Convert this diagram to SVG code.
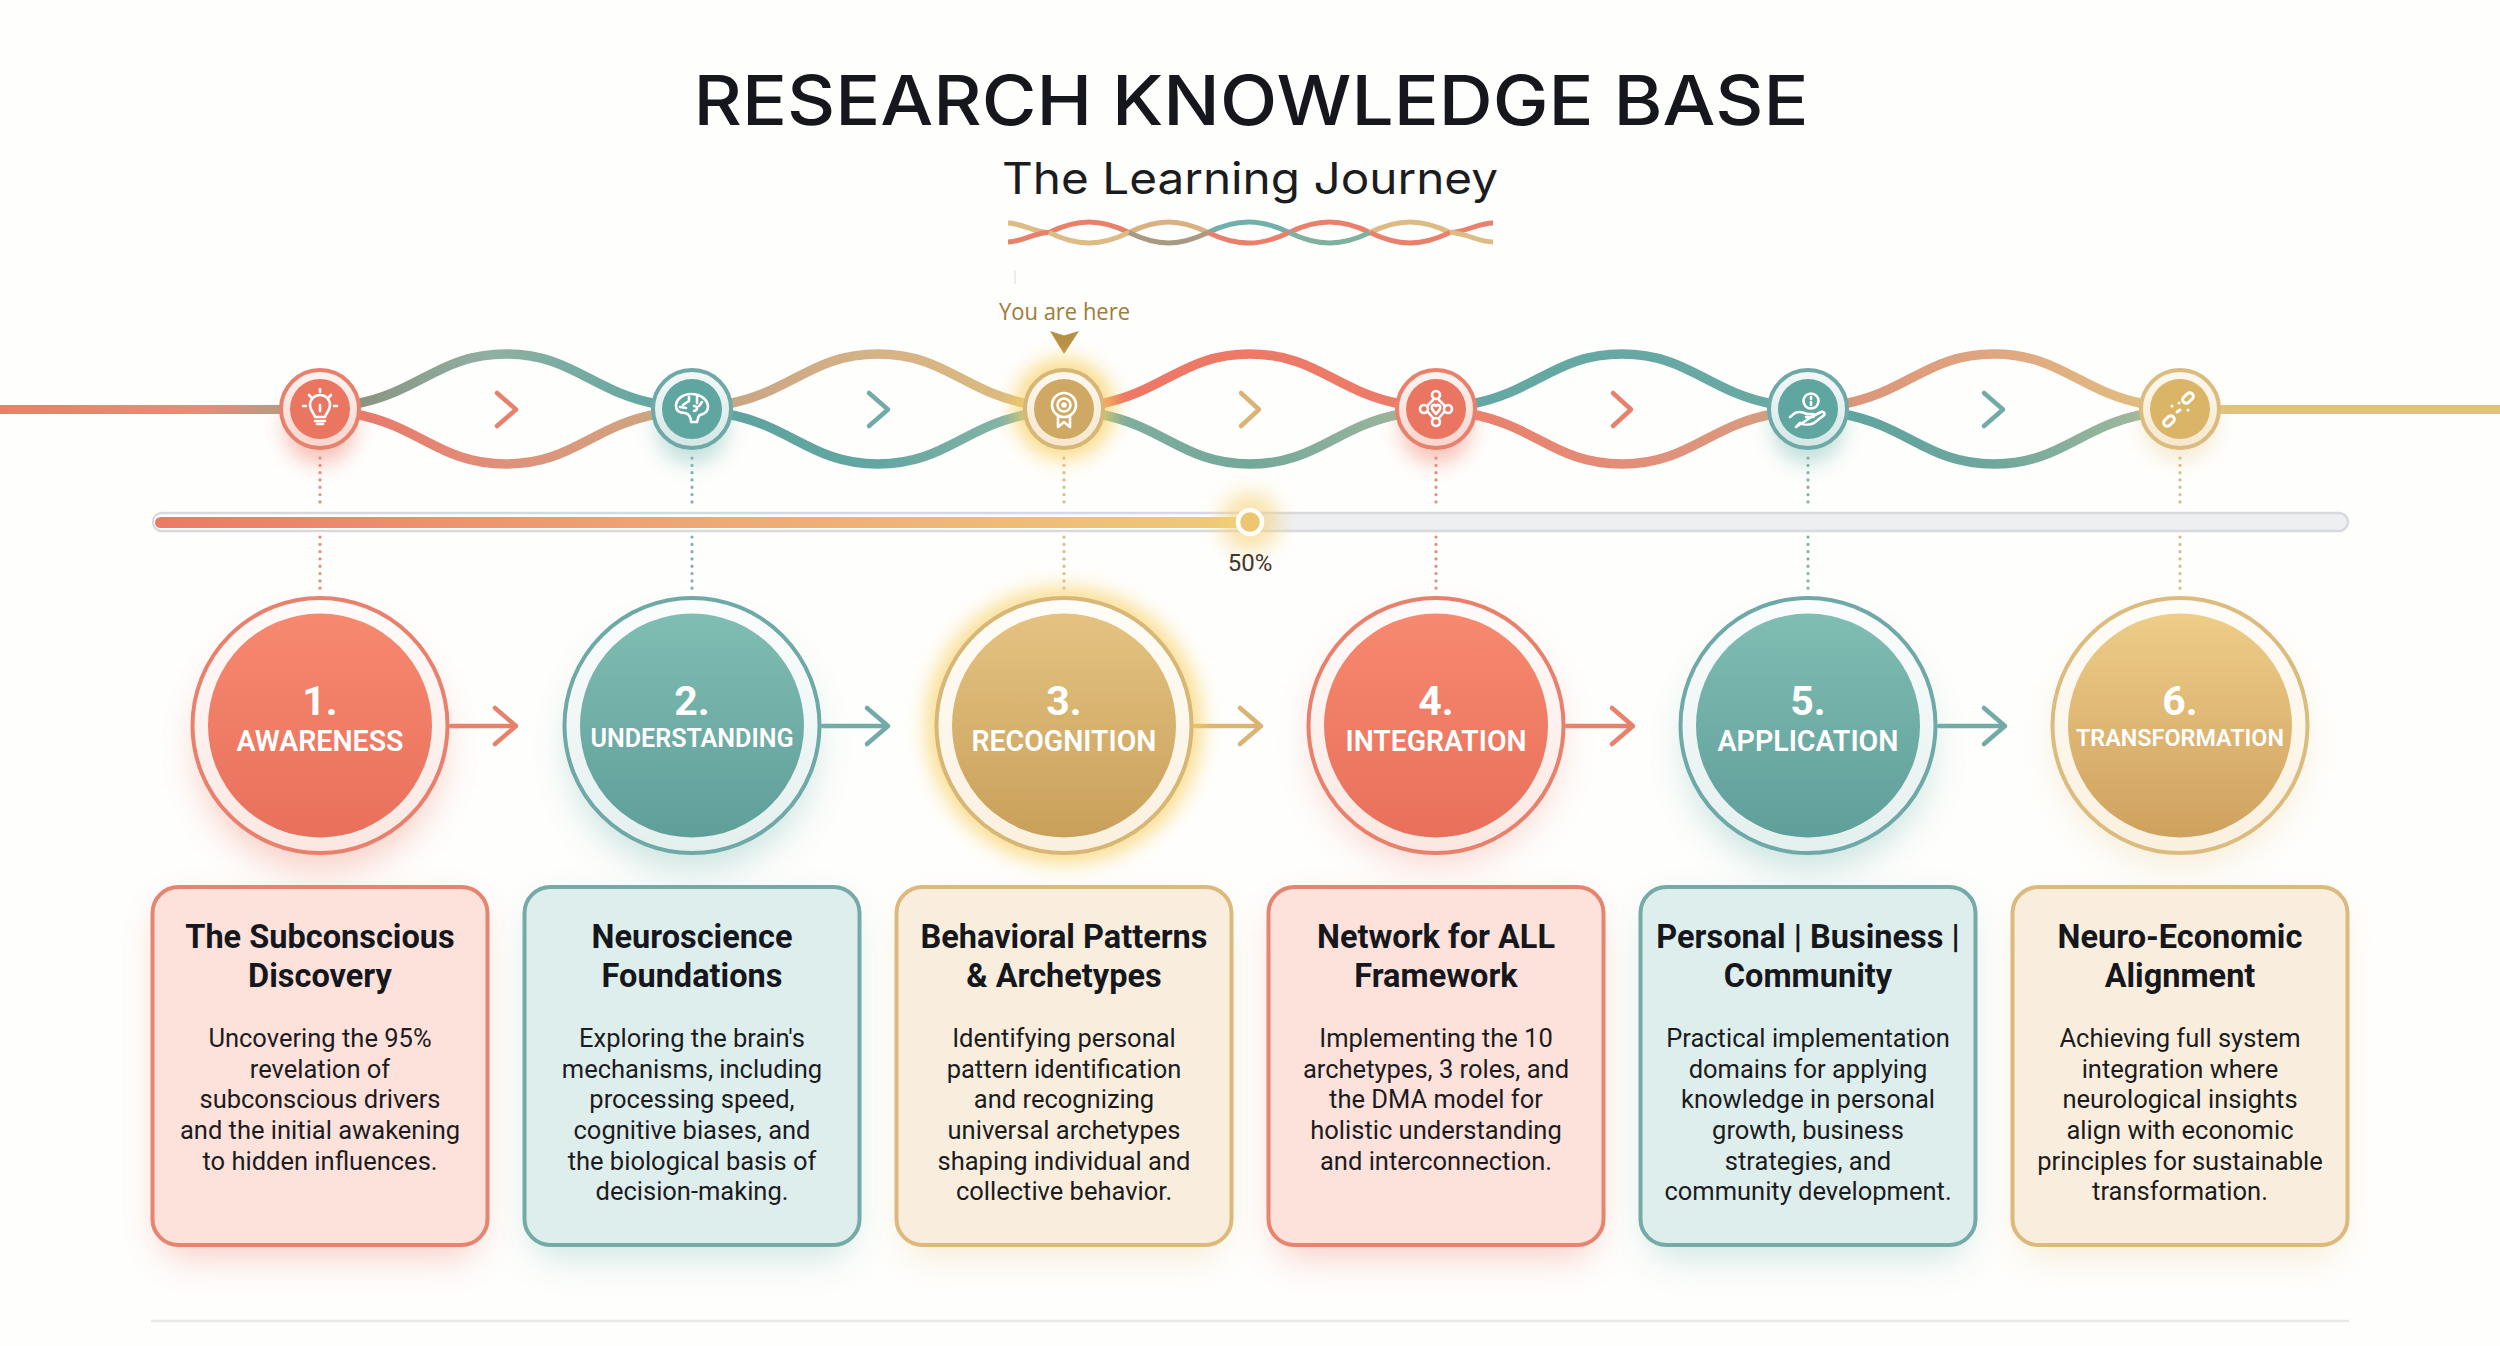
<svg xmlns="http://www.w3.org/2000/svg" width="2500" height="1346" viewBox="0 0 2500 1346">
<style>
text{font-family:Roboto,"Liberation Sans",sans-serif;text-anchor:middle}
.h1{font-family:Inter,"Liberation Sans",sans-serif;font-size:69px;font-weight:500;fill:#15171c}
.h2{font-family:Inter,"Liberation Sans",sans-serif;font-size:44px;font-weight:400;fill:#1b1c20}
.num{font-size:41px;font-weight:700;fill:#fff}
.lab{font-size:29px;font-weight:600;fill:#fff}
.ct{font-size:32.500px;font-weight:700;fill:#15171c}
.cb{font-size:25.500px;font-weight:400;fill:#1c1c1e}
.w{fill:none;stroke-width:9.500}
.tw{fill:none;stroke-width:5}
.dot{fill:none;stroke-width:3.200;stroke-linecap:round;stroke-dasharray:.1 7.200;opacity:.9}
.arr{fill:none;stroke-width:4.500;stroke-linecap:round;stroke-linejoin:round}
.ic{fill:none;stroke:#fff;stroke-width:2.600;stroke-linecap:round;stroke-linejoin:round}
.cor{stroke:#e8806c}.tea{stroke:#72aaa8}.tan{stroke:#d9b474}
.card{stroke-width:4}
</style>
<defs>
<filter id="b6" x="-50%" y="-50%" width="200%" height="200%"><feGaussianBlur stdDeviation="6"/></filter>
<filter id="b10" x="-50%" y="-50%" width="200%" height="200%"><feGaussianBlur stdDeviation="10"/></filter>
<filter id="b18" x="-50%" y="-50%" width="200%" height="200%"><feGaussianBlur stdDeviation="18"/></filter>
<linearGradient id="bc" x1="0" y1="0" x2="0" y2="1"><stop offset="0" stop-color="#f6896f"/><stop offset="1" stop-color="#e9705b"/></linearGradient>
<linearGradient id="bt" x1="0" y1="0" x2="0" y2="1"><stop offset="0" stop-color="#80bdb2"/><stop offset="1" stop-color="#5f9f9a"/></linearGradient>
<linearGradient id="by" x1="0" y1="0" x2="0" y2="1"><stop offset="0" stop-color="#e4c382"/><stop offset="1" stop-color="#c9a05a"/></linearGradient>
<linearGradient id="bz" x1="0" y1="0" x2="0" y2="1"><stop offset="0" stop-color="#edcd88"/><stop offset="1" stop-color="#cfa15e"/></linearGradient>
<linearGradient id="rc" x1="0" y1="0" x2="0" y2="1"><stop offset="0" stop-color="#fdf3f0"/><stop offset="1" stop-color="#f8d5cd"/></linearGradient>
<linearGradient id="rt" x1="0" y1="0" x2="0" y2="1"><stop offset="0" stop-color="#f3f9f8"/><stop offset="1" stop-color="#d3e7e5"/></linearGradient>
<linearGradient id="ry" x1="0" y1="0" x2="0" y2="1"><stop offset="0" stop-color="#fdf8ef"/><stop offset="1" stop-color="#f6e7cd"/></linearGradient>
<linearGradient id="rc2" x1="0" y1="0" x2="0" y2="1"><stop offset="0" stop-color="#fffbfa"/><stop offset="1" stop-color="#fbe7e2"/></linearGradient>
<linearGradient id="rt2" x1="0" y1="0" x2="0" y2="1"><stop offset="0" stop-color="#fbfdfd"/><stop offset="1" stop-color="#e4f0ee"/></linearGradient>
<linearGradient id="ry2" x1="0" y1="0" x2="0" y2="1"><stop offset="0" stop-color="#fffdf8"/><stop offset="1" stop-color="#faf0de"/></linearGradient>
<linearGradient id="lead1" x1="0" x2="1"><stop offset="0" stop-color="#ef7d69"/><stop offset=".7" stop-color="#e68d78"/><stop offset="1" stop-color="#b69a85"/></linearGradient>
<linearGradient id="p" x1="0" x2="1"><stop offset="0" stop-color="#ec7a66"/><stop offset=".5" stop-color="#eea877"/><stop offset="1" stop-color="#eecb78"/></linearGradient>
<linearGradient id="w1" x1="0" x2="1"><stop offset="0" stop-color="#8a9380"/><stop offset=".45" stop-color="#8fb0a2"/><stop offset="1" stop-color="#62a7a2"/></linearGradient>
<linearGradient id="w2" x1="0" x2="1"><stop offset="0" stop-color="#e9786a"/><stop offset=".5" stop-color="#e0907a"/><stop offset="1" stop-color="#cfa581"/></linearGradient>
<linearGradient id="w3" x1="0" x2="1"><stop offset="0" stop-color="#c9a684"/><stop offset=".5" stop-color="#d6b287"/><stop offset="1" stop-color="#dcbb7e"/></linearGradient>
<linearGradient id="w4" x1="0" x2="1"><stop offset="0" stop-color="#5fa3a0"/><stop offset=".5" stop-color="#62a6a1"/><stop offset="1" stop-color="#8cb5a6"/></linearGradient>
<linearGradient id="w5" x1="0" x2="1"><stop offset="0" stop-color="#ee7766"/><stop offset="1" stop-color="#ec7b68"/></linearGradient>
<linearGradient id="w6" x1="0" x2="1"><stop offset="0" stop-color="#7fae9f"/><stop offset=".5" stop-color="#73a899"/><stop offset="1" stop-color="#9bb59d"/></linearGradient>
<linearGradient id="w7" x1="0" x2="1"><stop offset="0" stop-color="#64a7a3"/><stop offset="1" stop-color="#68a9a4"/></linearGradient>
<linearGradient id="w8" x1="0" x2="1"><stop offset="0" stop-color="#e9806c"/><stop offset=".5" stop-color="#e48d79"/><stop offset="1" stop-color="#d79c80"/></linearGradient>
<linearGradient id="w9" x1="0" x2="1"><stop offset="0" stop-color="#dc9479"/><stop offset=".5" stop-color="#e0a680"/><stop offset="1" stop-color="#e0bd80"/></linearGradient>
<linearGradient id="w10" x1="0" x2="1"><stop offset="0" stop-color="#5fa3a0"/><stop offset=".5" stop-color="#6ea79c"/><stop offset="1" stop-color="#a2b89c"/></linearGradient>
<path id="lt" d="M355,404 C420,392 440,354 506,354 S592,392 657,404"/>
<path id="lb" d="M355,414 C420,426 440,464 506,464 S592,426 657,414"/>
</defs>
<rect width="2500" height="1346" fill="#fefefc"/>

<g id="header">
<text class="h1" x="1251" y="125" textLength="1115" lengthAdjust="spacingAndGlyphs">RESEARCH KNOWLEDGE BASE</text>
<text class="h2" x="1250" y="194" textLength="496" lengthAdjust="spacingAndGlyphs">The Learning Journey</text>
<g id="title-weave">
<path class="tw" stroke="#dcbb84" d="M1008,223 C1022,223 1034,232.500 1049,232.500"/>
<path class="tw" stroke="#e8806c" d="M1008,242 C1022,242 1034,232.500 1049,232.500"/>
<path class="tw" stroke="#e8806c" d="M1049,232.500 C1078,218.500 1100,218.500 1129,232.500"/>
<path class="tw" stroke="#dcbb84" d="M1049,232.500 C1078,246.500 1100,246.500 1129,232.500"/>
<path class="tw" stroke="#d9b080" d="M1129,232.500 C1158,218.500 1179,218.500 1208,232.500"/>
<path class="tw" stroke="#a89a82" d="M1129,232.500 C1158,246.500 1179,246.500 1208,232.500"/>
<path class="tw" stroke="#6fb0aa" d="M1208,232.500 C1237,218.500 1260,218.500 1289,232.500"/>
<path class="tw" stroke="#e8806c" d="M1208,232.500 C1237,246.500 1260,246.500 1289,232.500"/>
<path class="tw" stroke="#e8806c" d="M1289,232.500 C1318,218.500 1341,218.500 1370,232.500"/>
<path class="tw" stroke="#7fb0a0" d="M1289,232.500 C1318,246.500 1341,246.500 1370,232.500"/>
<path class="tw" stroke="#dcbb84" d="M1370,232.500 C1399,218.500 1421,218.500 1450,232.500"/>
<path class="tw" stroke="#e8806c" d="M1370,232.500 C1399,246.500 1421,246.500 1450,232.500"/>
<path class="tw" stroke="#e8806c" d="M1450,232.500 C1465,232.500 1478,223 1493,223"/>
<path class="tw" stroke="#dcbb84" d="M1450,232.500 C1465,232.500 1478,242 1493,242"/>
</g>
<line x1="1015" y1="270" x2="1015" y2="284" stroke="#dddcd8" stroke-width="1"/>
</g>

<g id="connectors">
<rect x="0" y="405" width="282" height="9" fill="url(#lead1)"/>
<rect x="2218" y="405" width="282" height="9" fill="#e0c17d"/>
<use href="#lt" class="w" stroke="url(#w1)"/>
<use href="#lb" class="w" stroke="url(#w2)"/>
<use href="#lt" x="372" class="w" stroke="url(#w3)"/>
<use href="#lb" x="372" class="w" stroke="url(#w4)"/>
<use href="#lt" x="744" class="w" stroke="url(#w5)"/>
<use href="#lb" x="744" class="w" stroke="url(#w6)"/>
<use href="#lt" x="1116" class="w" stroke="url(#w7)"/>
<use href="#lb" x="1116" class="w" stroke="url(#w8)"/>
<use href="#lt" x="1488" class="w" stroke="url(#w9)"/>
<use href="#lb" x="1488" class="w" stroke="url(#w10)"/>
<path class="arr cor" d="M497,393 L516,409.500 L497,426"/>
<path class="arr tea" d="M869,393 L888,409.500 L869,426"/>
<path class="arr tan" d="M1241,393 L1259,409.500 L1241,426"/>
<path class="arr cor" d="M1613,393 L1631,409.500 L1613,426"/>
<path class="arr tea" d="M1984,393 L2003,409.500 L1984,426"/>
<path class="dot cor" d="M320,458 V505 M320,537 V592"/>
<path class="dot tea" d="M692,458 V505 M692,537 V592"/>
<path class="dot tan" d="M1064,458 V505 M1064,537 V592"/>
<path class="dot cor" d="M1436,458 V505 M1436,537 V592"/>
<path class="dot tea" d="M1808,458 V505 M1808,537 V592"/>
<path class="dot tan" d="M2180,458 V505 M2180,537 V592"/>
<path class="arr cor" d="M451,726 H514 M495,708 L516,726 L495,744"/>
<path class="arr tea" d="M823,726 H886 M867,708 L888,726 L867,744"/>
<path class="arr tan" d="M1195,726 H1258 M1240,708 L1261,726 L1240,744"/>
<path class="arr cor" d="M1567,726 H1630 M1612,708 L1633,726 L1612,744"/>
<path class="arr tea" d="M1939,726 H2002 M1984,708 L2005,726 L1984,744"/>
</g>

<g id="progress">
<rect x="153" y="513" width="2195" height="18" rx="9" fill="#eeeff1" stroke="#d8d9dd" stroke-width="2.500"/>
<rect x="154" y="514.500" width="1096" height="15" rx="7" fill="#fff"/>
<rect x="155" y="517" width="1095" height="11" rx="5.500" fill="url(#p)"/>
<circle cx="1250" cy="522" r="30" fill="#f6d27a" opacity=".6" filter="url(#b10)"/>
<circle cx="1250" cy="522" r="12" fill="#ecc672" stroke="#fffef9" stroke-width="4.500"/>
<text x="1250" y="571" font-size="24" fill="#45352d" font-weight="400">50%</text>
</g>

<g id="you-are-here">
<text x="1064.500" y="319.500" font-size="24" font-weight="500" fill="#9c7d3a" style="font-family:'Open Sans','Liberation Sans',sans-serif" textLength="131" lengthAdjust="spacingAndGlyphs">You are here</text>
<path d="M1050,331 L1064,335.500 L1079,331 L1064,354 Z" fill="#b98f45"/>
</g>

<g id="step-node-1">
<circle cx="320" cy="428" r="36" fill="#f08a78" opacity=".5" filter="url(#b10)"/>
<circle cx="320" cy="409" r="39" fill="url(#rc)" stroke="#e8806c" stroke-width="4"/>
<circle cx="320" cy="409" r="30" fill="#ea7561"/>
<g class="ic" transform="translate(320,409)"><path d="M-5,8 C-6,4 -10,2 -10,-4 a10,10 0 1 1 20,0 C10,2 6,4 5,8 Z M-5,12 H5 M-3,15 H3 M0,-4 V2 M-17,-3 H-14 M-11,-14 L-9,-12 M0,-20 V-17 M11,-14 L9,-12 M17,-3 H14"/></g>
</g>
<g id="step-node-2">
<circle cx="692" cy="428" r="36" fill="#7dbcb6" opacity=".45" filter="url(#b10)"/>
<circle cx="692" cy="409" r="39" fill="url(#rt)" stroke="#6ea9a7" stroke-width="4"/>
<circle cx="692" cy="409" r="30" fill="#5fa5a0"/>
<g class="ic" transform="translate(692,409)"><path d="M-16,-3 C-16,-10 -9,-15 -1,-15 C9,-15 16,-9 16,-2 C16,3 12,5 8,6 C6,7 6,10 5,13 H-1 C-1,8 -3,5 -7,4 C-12,4 -16,2 -16,-3 Z M-9,-4 L-3,-8 M-3,-8 V-12 M5,-12 V-6 M2,-3 C6,-3 6,1 2,2 M10,-7 L7,-3 M-12,-2 L-6,-1"/></g>
</g>
<g id="step-node-3">
<circle cx="1064" cy="409" r="50" fill="#f8cf5e" opacity=".75" filter="url(#b10)"/>
<circle cx="1064" cy="409" r="39" fill="url(#ry)" stroke="#d8b676" stroke-width="4"/>
<circle cx="1064" cy="409" r="30" fill="#cfa964"/>
<g class="ic" transform="translate(1064,409)"><circle cx="0" cy="-4" r="12"/><circle cx="0" cy="-4" r="6.500"/><circle cx="0" cy="-4" r="1.500"/><path d="M-6,8 V18 L0,13 L6,18 V8"/></g>
</g>
<g id="step-node-4">
<circle cx="1436" cy="428" r="36" fill="#f08a78" opacity=".5" filter="url(#b10)"/>
<circle cx="1436" cy="409" r="39" fill="url(#rc)" stroke="#e8806c" stroke-width="4"/>
<circle cx="1436" cy="409" r="30" fill="#ea7561"/>
<g class="ic" transform="translate(1436,409)"><circle cx="0" cy="-14" r="4"/><circle cx="-12" cy="0" r="4"/><circle cx="12" cy="0" r="4"/><circle cx="0" cy="13" r="4"/><path d="M-8,-4 L-3,-9 M8,-4 L3,-9 M-8,3 L-3,9 M8,3 L3,9 M-4,-3 C-2,-5 -1,-4 0,-3 C1,-4 2,-5 4,-3 C5,-1 2,3 0,5 C-2,3 -5,-1 -4,-3 Z"/></g>
</g>
<g id="step-node-5">
<circle cx="1808" cy="428" r="36" fill="#7dbcb6" opacity=".45" filter="url(#b10)"/>
<circle cx="1808" cy="409" r="39" fill="url(#rt)" stroke="#6ea9a7" stroke-width="4"/>
<circle cx="1808" cy="409" r="30" fill="#5fa5a0"/>
<g class="ic" transform="translate(1808,409)"><circle cx="3" cy="-8" r="7.500"/><path d="M3,-12 V-10 M3,-7 V-4 M-18,8 L-13,4 C-9,2 -5,3 -1,5 L5,5 C7,5 7,8 4,8 L-2,8 M5,7 L13,3 C16,2 18,5 15,7 L6,14 C2,16 -4,16 -8,14 L-12,18 Z"/></g>
</g>
<g id="step-node-6">
<circle cx="2180" cy="424" r="36" fill="#e8c88e" opacity=".4" filter="url(#b10)"/>
<circle cx="2180" cy="409" r="39" fill="url(#ry)" stroke="#dcbb7e" stroke-width="4"/>
<circle cx="2180" cy="409" r="30" fill="#dab568"/>
<g class="ic" transform="translate(2180,409)" style="stroke-width:3"><rect x="-6" y="-3.500" width="12" height="7" rx="3.500" transform="translate(8,-11) rotate(-42)"/><rect x="-6" y="-3.500" width="12" height="7" rx="3.500" transform="translate(-11,12) rotate(-42)"/><path d="M-3,3 L0,1 M-8,-3 L-8,-3 M8,1 L8,1 M-1,-6 L-1,-6"/></g>
</g>

<g id="step-1">
<circle cx="320" cy="748" r="122" fill="#f08a78" opacity=".42" filter="url(#b18)"/>
<circle cx="320" cy="725.500" r="127.500" fill="url(#rc2)" stroke="#e8806c" stroke-width="4"/>
<circle cx="320" cy="725.500" r="112" fill="url(#bc)"/>
<text class="num" x="320" y="715">1.</text>
<text class="lab" x="320" y="751" textLength="167" lengthAdjust="spacingAndGlyphs">AWARENESS</text>
</g>
<g id="step-2">
<circle cx="692" cy="748" r="122" fill="#7dbcb6" opacity=".4" filter="url(#b18)"/>
<circle cx="692" cy="725.500" r="127.500" fill="url(#rt2)" stroke="#6ea9a7" stroke-width="4"/>
<circle cx="692" cy="725.500" r="112" fill="url(#bt)"/>
<text class="num" x="692" y="715">2.</text>
<text class="lab" x="692" y="747" style="font-size:26px" textLength="203" lengthAdjust="spacingAndGlyphs">UNDERSTANDING</text>
</g>
<g id="step-3">
<circle cx="1064" cy="725.500" r="138" fill="#f8cf5e" opacity=".7" filter="url(#b10)"/>
<circle cx="1064" cy="725.500" r="127.500" fill="url(#ry2)" stroke="#d8b676" stroke-width="4"/>
<circle cx="1064" cy="725.500" r="112" fill="url(#by)"/>
<text class="num" x="1064" y="715">3.</text>
<text class="lab" x="1064" y="751" textLength="185" lengthAdjust="spacingAndGlyphs">RECOGNITION</text>
</g>
<g id="step-4">
<circle cx="1436" cy="742" r="122" fill="#f08a78" opacity=".35" filter="url(#b18)"/>
<circle cx="1436" cy="725.500" r="127.500" fill="url(#rc2)" stroke="#e8806c" stroke-width="4"/>
<circle cx="1436" cy="725.500" r="112" fill="url(#bc)"/>
<text class="num" x="1436" y="715">4.</text>
<text class="lab" x="1436" y="751" textLength="181" lengthAdjust="spacingAndGlyphs">INTEGRATION</text>
</g>
<g id="step-5">
<circle cx="1808" cy="748" r="122" fill="#7dbcb6" opacity=".4" filter="url(#b18)"/>
<circle cx="1808" cy="725.500" r="127.500" fill="url(#rt2)" stroke="#6ea9a7" stroke-width="4"/>
<circle cx="1808" cy="725.500" r="112" fill="url(#bt)"/>
<text class="num" x="1808" y="715">5.</text>
<text class="lab" x="1808" y="751" textLength="181" lengthAdjust="spacingAndGlyphs">APPLICATION</text>
</g>
<g id="step-6">
<circle cx="2180" cy="742" r="122" fill="#e8c88e" opacity=".35" filter="url(#b18)"/>
<circle cx="2180" cy="725.500" r="127.500" fill="url(#ry2)" stroke="#dcbb7e" stroke-width="4"/>
<circle cx="2180" cy="725.500" r="112" fill="url(#bz)"/>
<text class="num" x="2180" y="715">6.</text>
<text class="lab" x="2180" y="746" style="font-size:24px" textLength="208" lengthAdjust="spacingAndGlyphs">TRANSFORMATION</text>
</g>

<g id="card-1">
<rect x="160" y="905" width="319" height="352" rx="26" fill="#f08a78" opacity=".42" filter="url(#b18)"/>
<rect class="card" x="152.500" y="887" width="335" height="358" rx="26" fill="#fde1db" stroke="#e5856f"/>
<text class="ct" x="320" y="948">The Subconscious</text><text class="ct" x="320" y="987">Discovery</text>
<text class="cb" x="320" y="1047">Uncovering the 95%</text><text class="cb" x="320" y="1077.500">revelation of</text><text class="cb" x="320" y="1108">subconscious drivers</text><text class="cb" x="320" y="1139">and the initial awakening</text><text class="cb" x="320" y="1170">to hidden influences.</text>
</g>
<g id="card-2">
<rect x="532" y="905" width="319" height="352" rx="26" fill="#7dbcb6" opacity=".38" filter="url(#b18)"/>
<rect class="card" x="524.500" y="887" width="335" height="358" rx="26" fill="#ddeeec" stroke="#75aaa8"/>
<text class="ct" x="692" y="948">Neuroscience</text><text class="ct" x="692" y="987">Foundations</text>
<text class="cb" x="692" y="1047">Exploring the brain's</text><text class="cb" x="692" y="1077.500">mechanisms, including</text><text class="cb" x="692" y="1108">processing speed,</text><text class="cb" x="692" y="1139">cognitive biases, and</text><text class="cb" x="692" y="1170">the biological basis of</text><text class="cb" x="692" y="1200">decision-making.</text>
</g>
<g id="card-3">
<rect x="904" y="905" width="319" height="352" rx="26" fill="#e8c88e" opacity=".35" filter="url(#b18)"/>
<rect class="card" x="896.500" y="887" width="335" height="358" rx="26" fill="#f9eedd" stroke="#dcb97c"/>
<text class="ct" x="1064" y="948">Behavioral Patterns</text><text class="ct" x="1064" y="987">&amp; Archetypes</text>
<text class="cb" x="1064" y="1047">Identifying personal</text><text class="cb" x="1064" y="1077.500">pattern identification</text><text class="cb" x="1064" y="1108">and recognizing</text><text class="cb" x="1064" y="1139">universal archetypes</text><text class="cb" x="1064" y="1170">shaping individual and</text><text class="cb" x="1064" y="1200">collective behavior.</text>
</g>
<g id="card-4">
<rect x="1276" y="905" width="319" height="352" rx="26" fill="#f08a78" opacity=".42" filter="url(#b18)"/>
<rect class="card" x="1268.500" y="887" width="335" height="358" rx="26" fill="#fde1db" stroke="#e5856f"/>
<text class="ct" x="1436" y="948">Network for ALL</text><text class="ct" x="1436" y="987">Framework</text>
<text class="cb" x="1436" y="1047">Implementing the 10</text><text class="cb" x="1436" y="1077.500">archetypes, 3 roles, and</text><text class="cb" x="1436" y="1108">the DMA model for</text><text class="cb" x="1436" y="1139">holistic understanding</text><text class="cb" x="1436" y="1170">and interconnection.</text>
</g>
<g id="card-5">
<rect x="1648" y="905" width="319" height="352" rx="26" fill="#7dbcb6" opacity=".38" filter="url(#b18)"/>
<rect class="card" x="1640.500" y="887" width="335" height="358" rx="26" fill="#ddeeec" stroke="#75aaa8"/>
<text class="ct" x="1808" y="948">Personal | Business |</text><text class="ct" x="1808" y="987">Community</text>
<text class="cb" x="1808" y="1047">Practical implementation</text><text class="cb" x="1808" y="1077.500">domains for applying</text><text class="cb" x="1808" y="1108">knowledge in personal</text><text class="cb" x="1808" y="1139">growth, business</text><text class="cb" x="1808" y="1170">strategies, and</text><text class="cb" x="1808" y="1200">community development.</text>
</g>
<g id="card-6">
<rect x="2020" y="905" width="319" height="352" rx="26" fill="#e8c88e" opacity=".35" filter="url(#b18)"/>
<rect class="card" x="2012.500" y="887" width="335" height="358" rx="26" fill="#f9eedd" stroke="#dcb97c"/>
<text class="ct" x="2180" y="948">Neuro-Economic</text><text class="ct" x="2180" y="987">Alignment</text>
<text class="cb" x="2180" y="1047">Achieving full system</text><text class="cb" x="2180" y="1077.500">integration where</text><text class="cb" x="2180" y="1108">neurological insights</text><text class="cb" x="2180" y="1139">align with economic</text><text class="cb" x="2180" y="1170">principles for sustainable</text><text class="cb" x="2180" y="1200">transformation.</text>
</g>

<line id="footer-rule" x1="151" y1="1321" x2="2349" y2="1321" stroke="#e9e9e9" stroke-width="2.500"/>
</svg>
